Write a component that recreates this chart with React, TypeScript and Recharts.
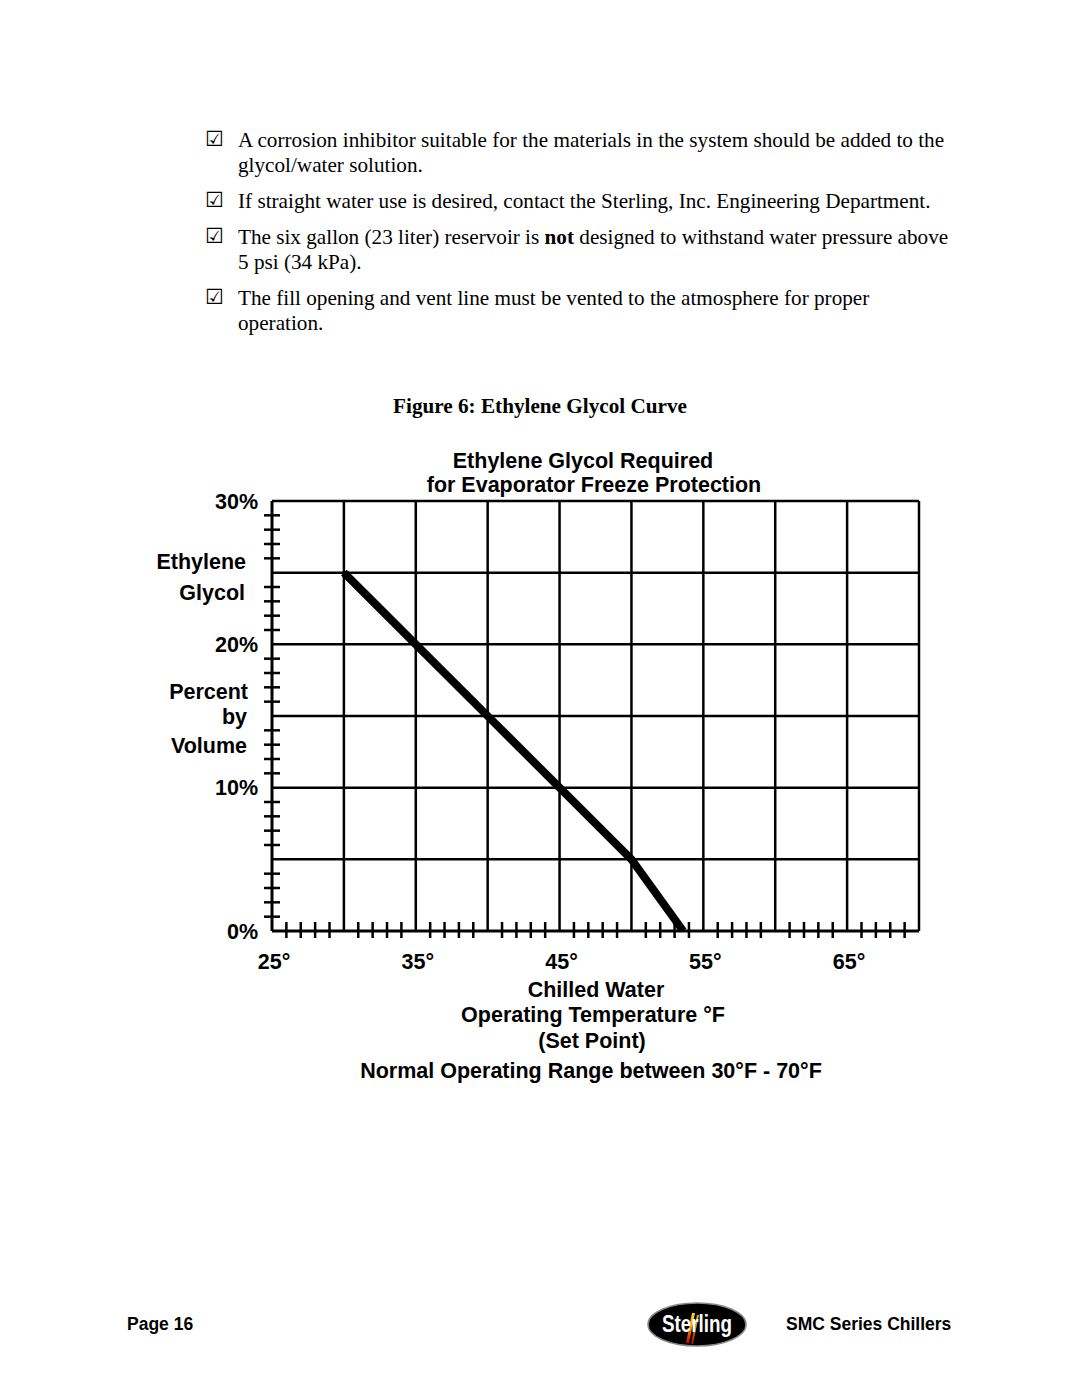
import { Line, LineChart, ReferenceLine, XAxis, YAxis } from 'recharts';

// curve: chilled water set point (°F) vs glycol %
const setPoint = [30, 35, 40, 45, 50, 53.6];
const glycolPct = [25, 20, 15, 10, 5, 0];

const xTicks = Array.from({ length: 46 }, (_, i) => 25 + i);
const yTicks = Array.from({ length: 31 }, (_, i) => i);
const xLabels = [25, 35, 45, 55, 65];
const yLabels = [0, 10, 20, 30];
const xGrid = [30, 35, 40, 45, 50, 55, 60, 65, 70];
const yGrid = [5, 10, 15, 20, 25, 30];

const bullets = [
    ['A corrosion inhibitor suitable for the materials in the system should be added to the', 'glycol/water solution.'],
    ['If straight water use is desired, contact the Sterling, Inc. Engineering Department.'],
    ['The six gallon (23 liter) reservoir is |not| designed to withstand water pressure above', '5 psi (34 kPa).'],
    ['The fill opening and vent line must be vented to the atmosphere for proper', 'operation.'],
];
const bulletTops = [128, 189, 225, 286];

const yTitle = [
    { text: 'Ethylene', y: 562, right: 246 },
    { text: 'Glycol', y: 593, right: 245 },
    { text: 'Percent', y: 692, right: 248 },
    { text: 'by', y: 717, right: 247 },
    { text: 'Volume', y: 746, right: 247 },
];

const xTitle = [
    { text: 'Chilled Water', y: 990, cx: 596 },
    { text: 'Operating Temperature °F', y: 1015, cx: 593 },
    { text: '(Set Point)', y: 1041, cx: 592 },
    { text: 'Normal Operating Range between 30°F - 70°F', y: 1071, cx: 591 },
];

const data = setPoint.map((t, i) => ({ temp: t, pct: glycolPct[i] }));

const sans = '"Liberation Sans", Arial, Helvetica, sans-serif';
const serif = '"Liberation Serif", "Times New Roman", serif';

const XTick = (props: any) => {
    const { x, y, payload } = props;
    const v = payload.value;
    return (
        <g>
            {v % 5 !== 0 && <line x1={x} x2={x} y1={y - 9} y2={y + 7} stroke="#000" strokeWidth={2.5} />}
            {xLabels.includes(v) && (
                <text x={x + 2} y={y + 38} textAnchor="middle" fontFamily={sans} fontWeight="bold" fontSize={21.5} fill="#000">
                    {v}°
                </text>
            )}
        </g>
    );
};

const YTick = (props: any) => {
    const { x, y, payload } = props;
    const v = payload.value;
    return (
        <g>
            {v % 5 !== 0 && <line x1={x - 8} x2={x + 8} y1={y} y2={y} stroke="#000" strokeWidth={2.5} />}
            {yLabels.includes(v) && (
                <text x={x - 14} y={y} dy="0.35em" textAnchor="end" fontFamily={sans} fontWeight="bold" fontSize={21.5} fill="#000">
                    {v}%
                </text>
            )}
        </g>
    );
};

const Txt = ({ text, cy, left, right, cx, size, family, bold }: any) => {
    const h = 30;
    const style: any = {
        position: 'absolute',
        top: cy - h / 2,
        height: h,
        lineHeight: `${h}px`,
        fontSize: size,
        fontFamily: family,
        fontWeight: bold ? 'bold' : 'normal',
        whiteSpace: 'nowrap',
        color: '#000',
    };
    if (cx !== undefined) {
        style.left = cx - 500;
        style.width = 1000;
        style.textAlign = 'center';
    } else if (right !== undefined) {
        style.right = 1080 - right;
        style.textAlign = 'right';
    } else {
        style.left = left;
    }
    return <div style={style}>{text}</div>;
};

const renderLine = (line: string) =>
    line.split('|').map((part, i) => (i % 2 === 1 ? <b key={i}>{part}</b> : <span key={i}>{part}</span>));

export default function App() {
    return (
        <div style={{ position: 'absolute', left: 0, top: 0, width: 1080, height: 1397, background: '#fff', overflow: 'hidden' }}>
            {bullets.map((lines, i) => (
                <div key={i} style={{ position: 'absolute', top: bulletTops[i], left: 0, width: 1080 }}>
                    <div style={{ position: 'absolute', left: 205, top: -1, fontFamily: '"DejaVu Sans"', fontSize: 21, lineHeight: '24px' }}>☑</div>
                    <div style={{ position: 'absolute', left: 238, top: 0, fontFamily: serif, fontSize: 21.2, lineHeight: '24.5px', whiteSpace: 'nowrap' }}>
                        {lines.map((l, j) => (
                            <div key={j}>{renderLine(l)}</div>
                        ))}
                    </div>
                </div>
            ))}

            <Txt text="Figure 6: Ethylene Glycol Curve" cy={406} cx={540} size={21.2} family={serif} bold />
            <Txt text="Ethylene Glycol Required" cy={461} cx={583} size={21.5} family={sans} bold />
            <Txt text="for Evaporator Freeze Protection" cy={485} cx={594} size={21.5} family={sans} bold />
            {yTitle.map((t) => (
                <Txt key={t.text} text={t.text} cy={t.y} right={t.right} size={21.5} family={sans} bold />
            ))}
            {xTitle.map((t) => (
                <Txt key={t.text} text={t.text} cy={t.y} cx={t.cx} size={21.5} family={sans} bold />
            ))}

            <div style={{ position: 'absolute', left: 172, top: 440 }}>
                <LineChart width={767} height={551} data={data} margin={{ top: 61, right: 20, bottom: 0, left: 0 }}>
                    <XAxis
                        dataKey="temp"
                        type="number"
                        domain={[25, 70]}
                        ticks={xTicks}
                        interval={0}
                        height={60}
                        tickSize={0}
                        tickMargin={0}
                        tickLine={false}
                        tick={<XTick />}
                        axisLine={{ stroke: '#000', strokeWidth: 3 }}
                        allowDataOverflow
                    />
                    <YAxis
                        type="number"
                        domain={[0, 30]}
                        ticks={yTicks}
                        interval={0}
                        width={100}
                        tickSize={0}
                        tickMargin={0}
                        tickLine={false}
                        tick={<YTick />}
                        axisLine={{ stroke: '#000', strokeWidth: 3 }}
                        allowDataOverflow
                    />
                    {xGrid.map((v) => (
                        <ReferenceLine key={'x' + v} x={v} stroke="#000" strokeWidth={2.5} />
                    ))}
                    {yGrid.map((v) => (
                        <ReferenceLine key={'y' + v} y={v} stroke="#000" strokeWidth={2.5} />
                    ))}
                    <Line
                        dataKey="pct"
                        type="linear"
                        stroke="#000"
                        strokeWidth={8}
                        strokeLinecap="butt"
                        dot={false}
                        activeDot={false}
                        isAnimationActive={false}
                    />
                </LineChart>
            </div>

            <Txt text="Page 16" cy={1324} left={127} size={17.5} family={sans} bold />
            <svg style={{ position: 'absolute', left: 641, top: 1296 }} width={112} height={57}>
                <defs>
                    <linearGradient id="streak" x1="0" y1="1" x2="0" y2="0">
                        <stop offset="0" stopColor="#d40000" />
                        <stop offset="0.5" stopColor="#ff8a00" />
                        <stop offset="1" stopColor="#ffe000" />
                    </linearGradient>
                </defs>
                <ellipse cx={56} cy={28.5} rx={49} ry={21.5} fill="#000" stroke="#888" strokeWidth={1.5} />
                <path d="M45 47 L51 17 L54 17 L48 47 Z" fill="url(#streak)" />
                <path d="M50 48 L56 19 L58 19 L52 48 Z" fill="url(#streak)" opacity={0.85} />
                <text x={56} y={36} textAnchor="middle" fontFamily='"Liberation Sans Narrow", "Liberation Sans", sans-serif' fontWeight="bold" fontSize={23} fill="#fff" textLength={70} lengthAdjust="spacingAndGlyphs">
                    Sterling
                </text>
            </svg>
            <Txt text="SMC Series Chillers" cy={1324} left={786} size={17.5} family={sans} bold />
        </div>
    );
}
